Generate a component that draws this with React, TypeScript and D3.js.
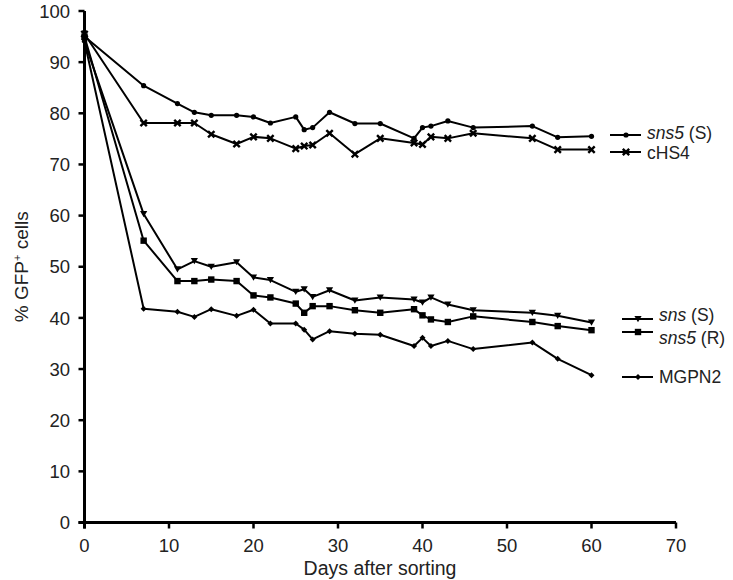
import React from "react";
import * as d3 from "d3";

const days = [0, 7, 11, 13, 15, 18, 20, 22, 25, 26, 27, 29, 32, 35, 39, 40, 41, 43, 46, 53, 56, 60];
const sns5S = [95, 85.4, 81.9, 80.2, 79.6, 79.6, 79.3, 78.1, 79.3, 76.8, 77.2, 80.2, 78.0, 78.0, 75.1, 77.2, 77.5, 78.5, 77.2, 77.5, 75.3, 75.5];
const cHS4 = [95.5, 78.1, 78.1, 78.1, 75.9, 74.0, 75.4, 75.1, 73.1, 73.6, 73.8, 76.1, 72.0, 75.1, 74.2, 73.9, 75.4, 75.1, 76.1, 75.1, 72.9, 72.9];
const snsS = [94, 60.3, 49.5, 51.1, 50.0, 50.9, 47.9, 47.4, 45.1, 45.6, 44.1, 45.4, 43.4, 44.0, 43.6, 43.0, 44.0, 42.6, 41.5, 41.0, 40.4, 39.1];
const sns5R = [95, 55.1, 47.2, 47.2, 47.5, 47.2, 44.4, 44.0, 42.8, 41.0, 42.3, 42.3, 41.5, 41.0, 41.7, 40.5, 39.7, 39.2, 40.3, 39.2, 38.4, 37.6];
const mgpn2 = [94, 41.8, 41.2, 40.2, 41.7, 40.4, 41.6, 38.9, 38.9, 37.7, 35.8, 37.4, 36.9, 36.7, 34.5, 36.1, 34.5, 35.5, 33.9, 35.2, 32.0, 28.8];

const xTicks = [0, 10, 20, 30, 40, 50, 60, 70];
const yTicks = [0, 10, 20, 30, 40, 50, 60, 70, 80, 90, 100];

type Marker = "circle" | "cross" | "tri" | "square" | "diamond";

const seriesList: { name: string; italic: string; plain: string; values: number[]; marker: Marker; ly: number; lx: number; ty: number }[] = [
  { name: "sns5S", italic: "sns5", plain: " (S)", values: sns5S, marker: "circle", ly: 135, lx: 610, ty: 133 },
  { name: "cHS4", italic: "", plain: "cHS4", values: cHS4, marker: "cross", ly: 152, lx: 610, ty: 153 },
  { name: "snsS", italic: "sns", plain: " (S)", values: snsS, marker: "tri", ly: 319, lx: 622, ty: 315 },
  { name: "sns5R", italic: "sns5", plain: " (R)", values: sns5R, marker: "square", ly: 332, lx: 622, ty: 338 },
  { name: "MGPN2", italic: "", plain: "MGPN2", values: mgpn2, marker: "diamond", ly: 377, lx: 622, ty: 377 },
];

const FONT = "'Liberation Sans', Arial, Helvetica, sans-serif";

function MarkerShape({ type, x, y }: { type: Marker; x: number; y: number }) {
  switch (type) {
    case "circle":
      return <circle cx={x} cy={y} r={2.6} fill="#000" />;
    case "cross":
      return (
        <path
          d={`M${x - 3.2},${y - 3.2} L${x + 3.2},${y + 3.2} M${x + 3.2},${y - 3.2} L${x - 3.2},${y + 3.2}`}
          fill="none"
          stroke="#000"
          strokeWidth={2.4}
        />
      );
    case "tri":
      return <path d={`M${x - 3.6},${y - 3} L${x + 3.6},${y - 3} L${x},${y + 3.2} Z`} fill="#000" />;
    case "square":
      return <rect x={x - 3.2} y={y - 3.2} width={6.4} height={6.4} fill="#000" />;
    case "diamond":
      return <path d={`M${x},${y - 3} L${x + 3},${y} L${x},${y + 3} L${x - 3},${y} Z`} fill="#000" />;
  }
}

export default function App() {
  const x = d3.scaleLinear().domain([0, 70]).range([84.5, 676]);
  const y = d3.scaleLinear().domain([0, 100]).range([522.5, 11]);
  const line = d3
    .line<[number, number]>()
    .x((d) => x(d[0]))
    .y((d) => y(d[1]));

  return (
    <svg
      width={733}
      height={580}
      style={{ position: "absolute", left: 0, top: 0, background: "#fff" }}
      fontFamily={FONT}
    >
      <rect width={733} height={580} fill="#fff" />
      {seriesList.map((s) => {
        const pts: [number, number][] = days.map((d, i) => [d, s.values[i]]);
        return (
          <g key={s.name}>
            <path d={line(pts) || ""} fill="none" stroke="#000" strokeWidth={2} strokeLinejoin="round" />
            {pts.map((p, i) => (
              <MarkerShape key={i} type={s.marker} x={x(p[0])} y={y(p[1])} />
            ))}
          </g>
        );
      })}
      <line x1={x(0)} x2={x(0)} y1={y(100)} y2={y(0) + 6} stroke="#000" strokeWidth={3} />
      <line x1={x(0) - 6} x2={x(70)} y1={y(0)} y2={y(0)} stroke="#000" strokeWidth={3} />
      {yTicks.map((t) => (
        <g key={"y" + t}>
          <line x1={x(0) - 6} x2={x(0)} y1={y(t)} y2={y(t)} stroke="#000" strokeWidth={2.5} />
          <text x={70} y={y(t)} dy="0.36em" textAnchor="end" fontSize={18.5} fill="#222">
            {t}
          </text>
        </g>
      ))}
      {xTicks.map((t) => (
        <g key={"x" + t}>
          <line x1={x(t)} x2={x(t)} y1={y(0)} y2={y(0) + 6} stroke="#000" strokeWidth={2.5} />
          <text x={x(t)} y={552} textAnchor="middle" fontSize={18.5} fill="#222">
            {t}
          </text>
        </g>
      ))}
      <text x={380} y={575} textAnchor="middle" fontSize={19.5} fill="#222">
        Days after sorting
      </text>
      <text transform={`translate(28,${(y(0) + y(100)) / 2}) rotate(-90)`} textAnchor="middle" fontSize={19} fill="#222">
        % GFP
        <tspan dy={-7} fontSize={11}>+</tspan>
        <tspan dy={7}> cells</tspan>
      </text>
      {seriesList.map((s) => (
        <g key={"l" + s.name}>
          <line x1={s.lx} x2={s.lx + 31} y1={s.ly} y2={s.ly} stroke="#000" strokeWidth={2} />
          <MarkerShape type={s.marker} x={s.lx + 16} y={s.ly} />
          <text x={s.lx + 37} y={s.ty} dy="0.36em" fontSize={17.5} fill="#222">
            {s.italic && <tspan fontStyle="italic">{s.italic}</tspan>}
            <tspan>{s.plain}</tspan>
          </text>
        </g>
      ))}
    </svg>
  );
}
